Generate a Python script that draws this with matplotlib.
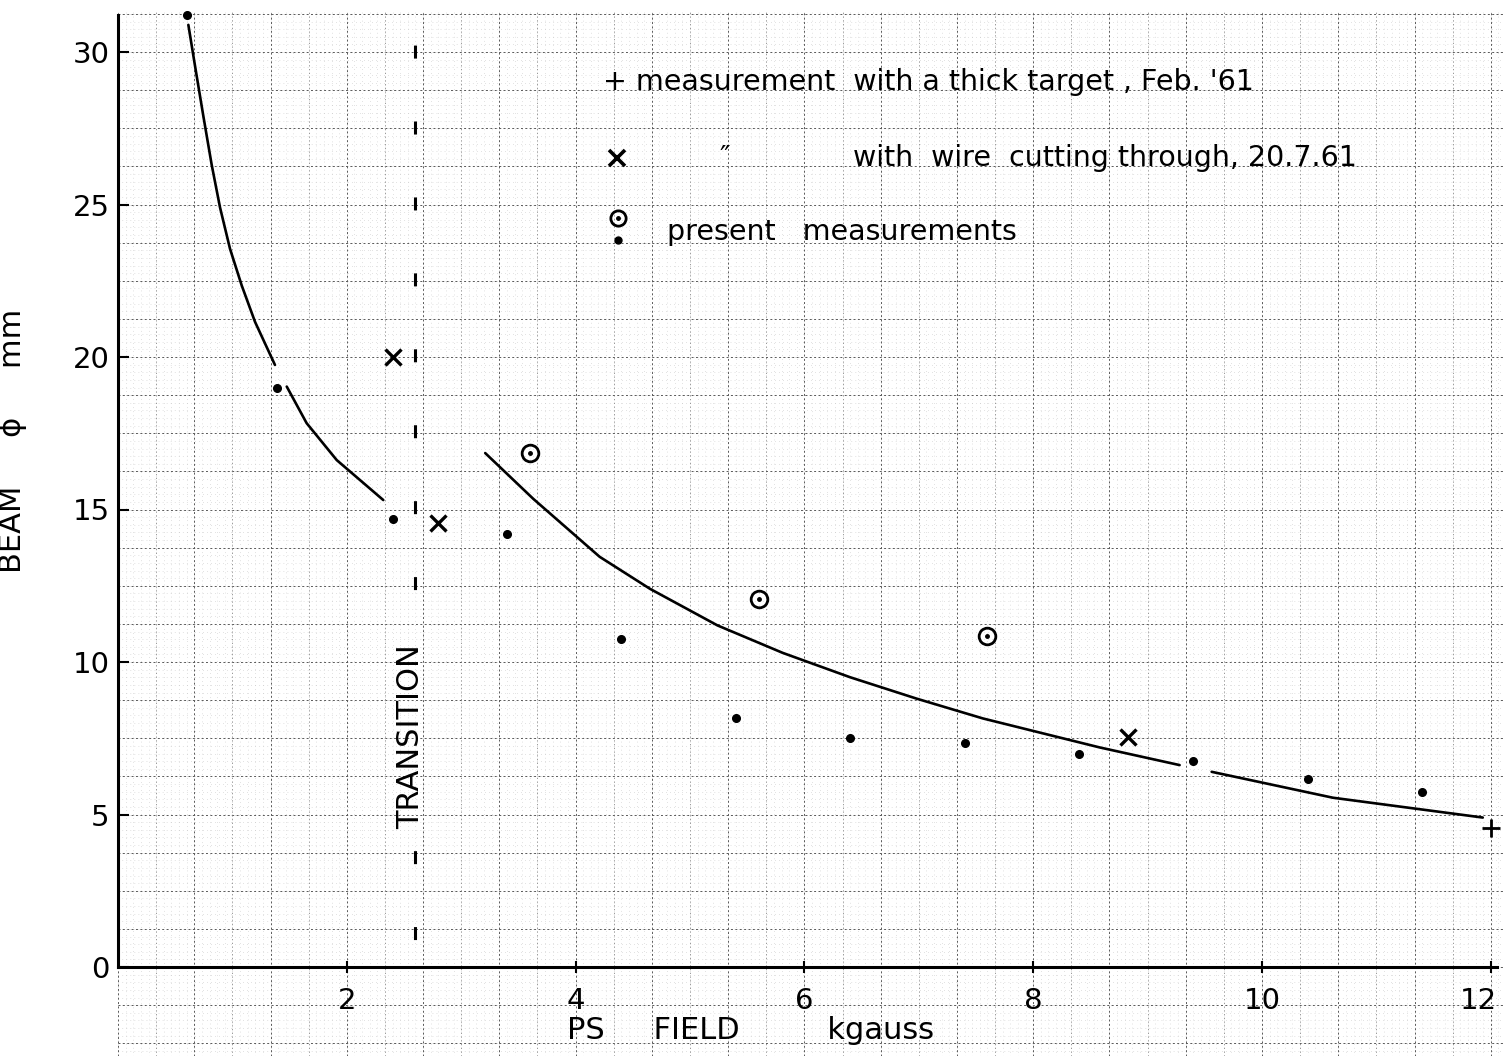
import matplotlib.pyplot as plt
import matplotlib.transforms as mtransforms
import numpy as np

# present measurements (small dots)
dot_x = [0.6, 1.39, 2.4, 3.4, 4.4, 5.4, 6.4, 7.4, 8.4, 9.4, 10.4, 11.4]
dot_y = [31.2, 19.0, 14.7, 14.2, 10.75, 8.15, 7.5, 7.35, 7.0, 6.75, 6.15, 5.75]
# present measurements (circled)
circ_x = [3.6, 5.6, 7.6]
circ_y = [16.85, 12.05, 10.85]
# wire cutting through, 20.7.61
cross_x = [2.4, 2.8, 8.83]
cross_y = [20.0, 14.55, 7.55]
# thick target, Feb. '61
plus_x = [12.0]
plus_y = [4.55]

# hand drawn curves (broken where they pass a point)
c1a_x = [0.615, 0.673, 0.746, 0.819, 0.892, 0.979, 1.081, 1.198, 1.372]
c1a_y = [30.89, 29.55, 27.9, 26.3, 24.9, 23.55, 22.35, 21.15, 19.74]
c1b_x = [1.475, 1.649, 1.912, 2.319]
c1b_y = [19.03, 17.83, 16.62, 15.31]
c2_x = [3.21, 3.63, 4.21, 4.65, 5.24, 5.81, 6.40, 6.98, 7.56, 8.15, 8.58, 9.28]
c2_y = [16.85, 15.35, 13.45, 12.4, 11.2, 10.3, 9.5, 8.8, 8.15, 7.6, 7.2, 6.62]
c3_x = [9.56, 10.62, 11.93]
c3_y = [6.4, 5.55, 4.9]

transition_x = 2.6

xticks = [2, 4, 6, 8, 10, 12]
yticks = [0, 5, 10, 15, 20, 25, 30]

plt.rcParams['font.family'] = 'DejaVu Sans'

fig = plt.figure(figsize=(15.04, 10.56), dpi=100)
ax = fig.add_axes([118 / 1504, 89 / 1056, 1378.5 / 1504, 951.6 / 1056])
ax.set_xlim(0, 12.05)
ax.set_ylim(0, 31.2)

# graph paper (mm squares), running past the axes like the sheet does
px, py = 114.4, 30.5
x_end = (1504 - 118) / px
y_bot = -89 / py
y_top = (967 - 12) / py
vx = np.arange(0, x_end, 1 / 15)
hy = np.arange(-2.75, y_top, 0.25)
ax.vlines(vx, y_bot, y_top, colors='0.72', lw=0.5, linestyles=(0, (0.8, 5)),
          clip_on=False, zorder=0.2)
ax.hlines(hy, 0, x_end, colors='0.72', lw=0.5, linestyles=(0, (0.8, 5)),
          clip_on=False, zorder=0.2)
ax.vlines(vx[5::10], y_bot, y_top, colors='0.55', lw=0.6, linestyles=(0, (1.5, 3)),
          clip_on=False, zorder=0.3)
ax.vlines(vx[::10], y_bot, y_top, colors='0.35', lw=0.7, linestyles=(0, (2, 2.5)),
          clip_on=False, zorder=0.3)
hmaj = hy[(np.round(hy / 0.25) % 5) == 0]
ax.hlines(hmaj, 0, x_end, colors='0.35', lw=0.7, linestyles=(0, (2, 2.5)),
          clip_on=False, zorder=0.3)

# transition marker
ax.vlines(transition_x, 31.2, 10.9, colors='k', lw=2.2, linestyles=(15, (4.25, 20.6)))
ax.vlines(transition_x, 4.0, 0, colors='k', lw=2.2, linestyles=(23, (4.25, 20.6)))
ax.text(transition_x - 0.04, 7.55, 'TRANSITION', rotation=90, ha='center',
        va='center', fontsize=22)

# curves
for cx, cy in [(c1a_x, c1a_y), (c1b_x, c1b_y), (c2_x, c2_y), (c3_x, c3_y)]:
    ax.plot(cx, cy, color='k', lw=1.9, solid_capstyle='round',
            solid_joinstyle='round')

# measurements
ax.plot(dot_x, dot_y, 'o', color='k', ms=5.5, clip_on=False)
ax.plot(circ_x, circ_y, 'o', mfc='none', mec='k', mew=2, ms=12)
ax.plot(circ_x, circ_y, 'o', color='k', ms=2.5)
ax.plot(cross_x, cross_y, 'x', color='k', mew=2.4, ms=11)
ax.plot(plus_x, plus_y, '+', color='k', mew=2, ms=13, clip_on=False)

# hand written legend
leg_fs = 20.5
ax.text(0.352, 0.93, "+ measurement  with a thick target , Feb. '61",
        transform=ax.transAxes, fontsize=leg_fs, va='center')
ax.plot([0.362], [0.85], 'x', color='k', mew=2.6, ms=12, transform=ax.transAxes)
ax.text(0.436, 0.85, '\u2033', transform=ax.transAxes, fontsize=leg_fs, va='center')
ax.text(0.533, 0.85, 'with  wire  cutting through, 20.7.61',
        transform=ax.transAxes, fontsize=leg_fs, va='center')
ax.plot([0.363], [0.787], 'o', mfc='none', mec='k', mew=2, ms=11,
        transform=ax.transAxes)
ax.plot([0.363], [0.787], 'o', color='k', ms=2.5, transform=ax.transAxes)
ax.plot([0.363], [0.764], 'o', color='k', ms=5, transform=ax.transAxes)
ax.text(0.398, 0.772, 'present   measurements', transform=ax.transAxes,
        fontsize=leg_fs, va='center')

# axes
for s in ['top', 'right']:
    ax.spines[s].set_visible(False)
for s in ['left', 'bottom']:
    ax.spines[s].set_linewidth(2.2)
ax.set_xticks(xticks)
ax.set_yticks(yticks)
ax.tick_params(axis='x', direction='inout', length=9, width=1.5, pad=10,
               labelsize=21)
ax.tick_params(axis='y', direction='in', length=8, width=1.5, pad=6,
               labelsize=21)
ax.set_facecolor('none')
last = ax.get_xticklabels()[-1]
last.set_transform(last.get_transform() +
                   mtransforms.ScaledTranslation(-12 / 100, 0, fig.dpi_scale_trans))

ax.set_xlabel('PS     FIELD         kgauss', fontsize=22)
ax.xaxis.set_label_coords(0.459, -0.052)
ax.set_ylabel('BEAM     \u03d5     mm', fontsize=22)
ax.yaxis.set_label_coords(-0.066, 0.553)

fig.savefig('out.png', dpi=100)
